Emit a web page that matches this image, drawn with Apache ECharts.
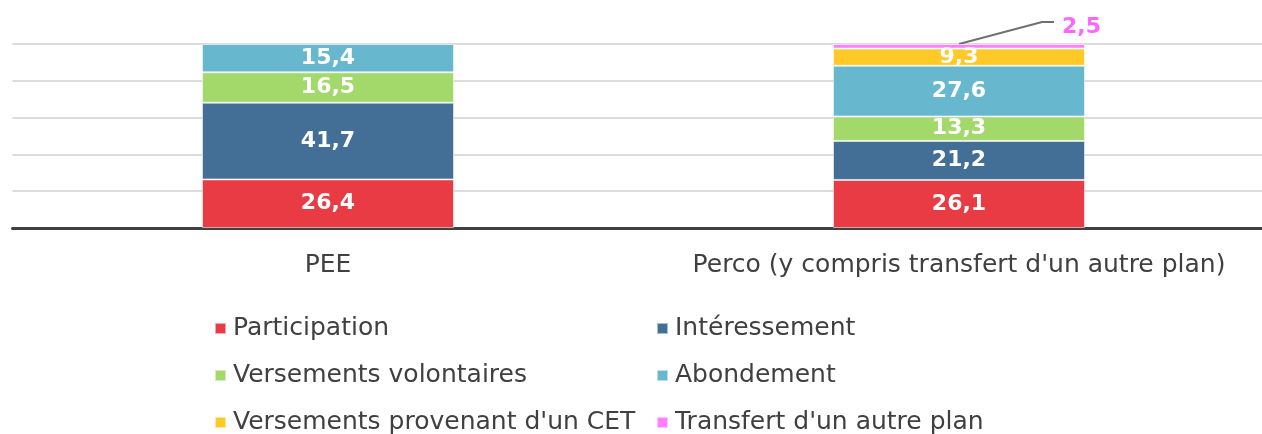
<!DOCTYPE html>
<html>
<head>
<meta charset="utf-8">
<script src="https://cdn.jsdelivr.net/npm/echarts@6/dist/echarts.min.js"></script>
<style>html,body{margin:0;padding:0;background:#fff}#c{width:1262px;height:434px}</style>
</head>
<body>
<div id="c"></div>
<script>
const categories = ['PEE', "Perco (y compris transfert d'un autre plan)"];
const seriesNames = ['Participation', 'Intéressement', 'Versements volontaires', 'Abondement', "Versements provenant d'un CET", "Transfert d'un autre plan"];
const participation = [26.4, 26.1];
const interessement = [41.7, 21.2];
const volontaires = [16.5, 13.3];
const abondement = [15.4, 27.6];
const cet = [null, 9.3];
const transfert = [null, 2.5];
const yTicks = [0, 20, 40, 60, 80, 100];

const colors = ['#E93B43', '#436F96', '#A3D86B', '#67B8CE', '#FFC928', '#FF80FF'];
const values = [participation, interessement, volontaires, abondement, cet, transfert];
const font = '"DejaVu Sans", sans-serif';
const fmtNum = v => String(v).replace('.', ',');
const fmt = p => fmtNum(p.value);

const chart = echarts.init(document.getElementById('c'), null, {renderer: 'canvas'});
const series = values.map((v, i) => ({
  name: seriesNames[i], type: 'bar', stack: 'total', data: v, barWidth: 252,
  itemStyle: {color: colors[i], borderColor: 'rgba(255,255,255,0.55)', borderWidth: 1},
  label: {show: i !== 5, position: 'inside', formatter: fmt, color: '#fff', fontFamily: font, fontWeight: 'bold', fontSize: 22},
  emphasis: {disabled: true}
}));

const legendPos = [[214, 316], [656, 316], [214, 363], [656, 363], [214, 410], [656, 410]];
const legends = seriesNames.map((n, i) => ({
  data: [n], left: legendPos[i][0], top: legendPos[i][1], padding: 0,
  icon: 'rect', itemWidth: 11, itemHeight: 11,
  textStyle: {fontFamily: font, fontSize: 25, color: '#404040', padding: [0, 0, 0, 2]},
  selectedMode: false
}));

chart.setOption({
  animation: false,
  color: colors,
  grid: {left: 12.5, top: 44, width: 1262, height: 184, containLabel: false, outerBoundsMode: 'none'},
  xAxis: {
    type: 'category', data: categories,
    axisLine: {lineStyle: {color: '#404040', width: 3}},
    axisTick: {show: false},
    axisLabel: {color: '#404040', fontFamily: font, fontSize: 25, margin: 25, interval: 0, hideOverlap: false, showMinLabel: true, showMaxLabel: true}
  },
  yAxis: {
    type: 'value', min: yTicks[0], max: yTicks[yTicks.length - 1], interval: 20,
    axisLabel: {show: false}, axisLine: {show: false}, axisTick: {show: false},
    splitLine: {lineStyle: {color: '#D0D0D0', width: 1.5}}
  },
  legend: legends,
  series: series
});

// leader line + outside label for the small "Transfert" segment
const catIdx = 1;
const stackTop = values.reduce((s, arr) => s + (arr[catIdx] || 0), 0);
const topPx = chart.convertToPixel({xAxisIndex: 0, yAxisIndex: 0}, [catIdx, stackTop]);
const cx = topPx[0], ty = topPx[1];
chart.setOption({
  graphic: [
    {type: 'polyline', shape: {points: [[cx, ty], [cx + 83, ty - 22], [cx + 95, ty - 22]]}, style: {stroke: '#707070', lineWidth: 2, fill: null}, silent: true},
    {type: 'text', x: cx + 103, y: ty - 17, style: {text: fmtNum(transfert[catIdx]), fill: '#FF66FF', font: 'bold 22px "DejaVu Sans", sans-serif', textAlign: 'left', textVerticalAlign: 'middle'}, silent: true}
  ]
});
</script>
</body>
</html>
